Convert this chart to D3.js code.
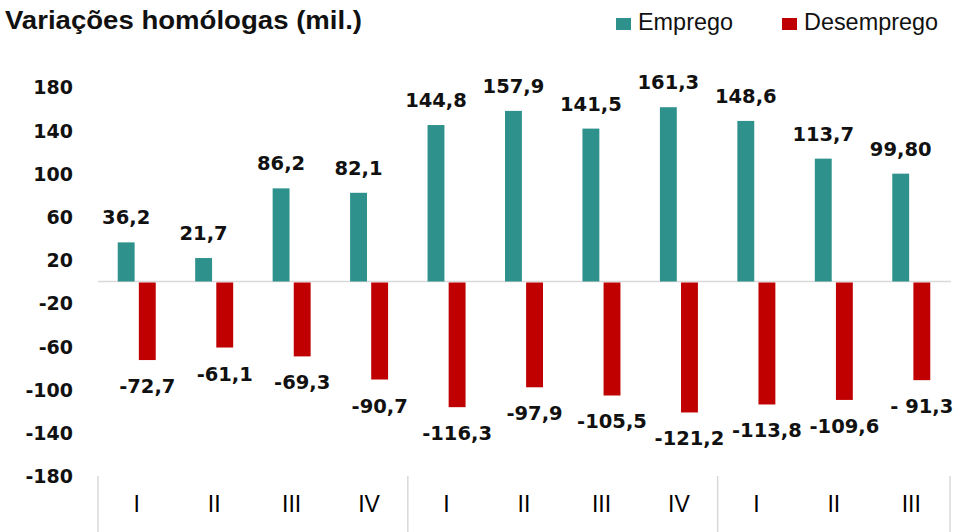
<!DOCTYPE html>
<html>
<head>
<meta charset="utf-8">
<script src="https://cdn.jsdelivr.net/npm/d3@7"></script>
<style>
  html, body { margin: 0; padding: 0; background: #fff; }
  svg { display: block; }
</style>
</head>
<body>
<svg id="chart" width="966" height="532"></svg>
<script>
const title = "Variações homólogas (mil.)";
const categories = ["I", "II", "III", "IV", "I", "II", "III", "IV", "I", "II", "III"];
const seriesNames = ["Emprego", "Desemprego"];
const emprego = [36.2, 21.7, 86.2, 82.1, 144.8, 157.9, 141.5, 161.3, 148.6, 113.7, 99.8];
const desemprego = [-72.7, -61.1, -69.3, -90.7, -116.3, -97.9, -105.5, -121.2, -113.8, -109.6, -91.3];
const empregoLabels = ["36,2", "21,7", "86,2", "82,1", "144,8", "157,9", "141,5", "161,3", "148,6", "113,7", "99,80"];
const desempregoLabels = ["-72,7", "-61,1", "-69,3", "-90,7", "-116,3", "-97,9", "-105,5", "-121,2", "-113,8", "-109,6", "- 91,3"];
const yTicks = [180, 140, 100, 60, 20, -20, -60, -100, -140, -180];
const groupBreaks = [0, 4, 8, 11];
const colors = { Emprego: "#2e918b", Desemprego: "#c00000" };

const svg = d3.select("#chart");
const textColor = "#111";
const numFont = "'DejaVu Sans', Verdana, sans-serif";
const narrowFont = "'Liberation Sans Narrow', 'Liberation Sans', Arial, sans-serif";

const x = d3.scaleBand().domain(d3.range(categories.length)).range([98, 950]).padding(0);
const bw = x.bandwidth();
const xs = d3.scaleBand().domain(seriesNames).range([bw / 2 - 19, bw / 2 + 19]).paddingInner(0.2);
const y = d3.scaleLinear().domain([-180, 180]).range([476, 87]);

// Title
svg.append("text")
  .attr("x", 5).attr("y", 29)
  .attr("font-family", narrowFont).attr("font-weight", "bold").attr("font-size", 25)
  .attr("fill", textColor)
  .attr("textLength", 357).attr("lengthAdjust", "spacingAndGlyphs")
  .text(title);

// Legend
const legendItems = [
  { name: "Emprego", sx: 616, tx: 638, tw: 95 },
  { name: "Desemprego", sx: 782, tx: 804, tw: 134 }
];
legendItems.forEach(d => {
  svg.append("rect").attr("x", d.sx).attr("y", 18).attr("width", 15).attr("height", 12)
    .attr("fill", colors[d.name]);
  svg.append("text").attr("x", d.tx).attr("y", 30)
    .attr("font-family", narrowFont).attr("font-size", 23).attr("fill", textColor)
    .attr("textLength", d.tw).attr("lengthAdjust", "spacingAndGlyphs")
    .text(d.name);
});

// Y axis labels (no line, no ticks)
const yAxis = d3.axisLeft(y).tickValues(yTicks).tickSize(0).tickPadding(0).tickFormat(d => d);
const yg = svg.append("g").attr("transform", "translate(73,0)").call(yAxis);
yg.select(".domain").remove();
yg.selectAll("text")
  .attr("font-family", numFont).attr("font-weight", "bold").attr("font-size", 19)
  .attr("fill", textColor).attr("dy", "0.36em");

// Zero line
svg.append("line")
  .attr("x1", 98).attr("x2", 951)
  .attr("y1", y(0)).attr("y2", y(0))
  .attr("stroke", "#d9d9d9").attr("stroke-width", 1.5);

// Bars
const rows = categories.map((c, i) => ({ i, Emprego: emprego[i], Desemprego: desemprego[i] }));
const groups = svg.append("g").selectAll("g").data(rows).join("g")
  .attr("transform", d => `translate(${x(d.i)},0)`);
groups.selectAll("rect").data(d => seriesNames.map(s => ({ s, v: d[s] }))).join("rect")
  .attr("x", d => xs(d.s))
  .attr("width", xs.bandwidth())
  .attr("y", d => y(Math.max(0, d.v)) + (d.v < 0 ? 1 : 0))
  .attr("height", d => Math.abs(y(d.v) - y(0)) - (d.v < 0 ? 1 : 0))
  .attr("fill", d => colors[d.s]);

// Data labels
groups.append("text")
  .attr("x", xs("Emprego") + xs.bandwidth() / 2)
  .attr("y", d => y(d.Emprego) - 18)
  .attr("text-anchor", "middle")
  .attr("font-family", numFont).attr("font-weight", "bold").attr("font-size", 19.5)
  .attr("fill", textColor)
  .text(d => empregoLabels[d.i]);
groups.append("text")
  .attr("x", xs("Desemprego") + xs.bandwidth() / 2)
  .attr("y", d => y(d.Desemprego) + 33)
  .attr("text-anchor", "middle")
  .attr("font-family", numFont).attr("font-weight", "bold").attr("font-size", 19.5)
  .attr("fill", textColor)
  .text(d => desempregoLabels[d.i]);

// Category axis
const xAxis = d3.axisBottom(x).tickSize(0).tickPadding(0).tickFormat(i => categories[i]);
const xg = svg.append("g").attr("transform", "translate(0,496)").call(xAxis);
xg.select(".domain").remove();
xg.selectAll("text")
  .attr("font-family", narrowFont).attr("font-size", 23).attr("fill", "#000")
  .attr("dy", "0.71em").attr("y", 0);

// Group separators
svg.append("g").selectAll("line").data(groupBreaks).join("line")
  .attr("x1", d => d < categories.length ? x(d) : x(categories.length - 1) + bw)
  .attr("x2", d => d < categories.length ? x(d) : x(categories.length - 1) + bw)
  .attr("y1", 476).attr("y2", 532)
  .attr("stroke", "#d9d9d9").attr("stroke-width", 1.5);
</script>
</body>
</html>
